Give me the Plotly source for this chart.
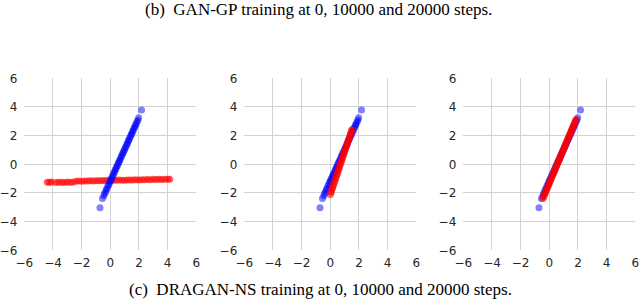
import plotly.graph_objects as go

# Real data (blue), shared by all three panels
real_x = [-0.72, -0.55, -0.45, -0.40, -0.33, -0.28, -0.22, -0.16, -0.10, -0.05, 0.00, 0.05, 0.10, 0.15,
          0.20, 0.25, 0.30, 0.35, 0.40, 0.45, 0.50, 0.55, 0.60, 0.65, 0.70, 0.75, 0.80, 0.85, 0.90, 0.95,
          1.00, 1.05, 1.10, 1.15, 1.20, 1.25, 1.30, 1.35, 1.40, 1.45, 1.50, 1.55, 1.60, 1.65, 1.70, 1.75,
          1.80, 1.86, 1.92, 1.98, 2.18]
real_y = [-3.03, -2.39, -2.20, -2.03, -1.93, -1.76, -1.69, -1.50, -1.42, -1.26, -1.19, -1.04, -0.97, -0.82,
          -0.75, -0.60, -0.52, -0.38, -0.30, -0.15, -0.08, 0.07, 0.14, 0.29, 0.36, 0.51, 0.59, 0.73, 0.81, 0.95,
          1.03, 1.18, 1.25, 1.40, 1.47, 1.62, 1.70, 1.84, 1.92, 2.06, 2.14, 2.29, 2.36, 2.51, 2.58, 2.73,
          2.81, 2.97, 3.08, 3.25, 3.79]

# Generated samples (red) at 0 steps
gen0_x = [-4.40, -4.25, -4.10, -3.80, -3.60, -3.40, -3.20, -3.00, -2.80, -2.60, -2.40, -2.20, -2.00, -1.80,
          -1.60, -1.40, -1.20, -1.00, -0.80, -0.60, -0.40, -0.20, 0.00, 0.20, 0.40, 0.60, 0.80, 1.00, 1.20,
          1.40, 1.60, 1.80, 2.00, 2.20, 2.40, 2.60, 2.80, 3.00, 3.20, 3.40, 3.60, 3.80, 4.00, 4.15]
gen0_y = [-1.25, -1.26, -1.24, -1.27, -1.26, -1.25, -1.27, -1.24, -1.26, -1.25, -1.19, -1.17, -1.18, -1.16,
          -1.17, -1.15, -1.16, -1.14, -1.15, -1.13, -1.14, -1.12, -1.13, -1.11, -1.12, -1.10, -1.11, -1.12, -1.10,
          -1.09, -1.10, -1.08, -1.09, -1.07, -1.08, -1.06, -1.07, -1.05, -1.06, -1.05, -1.06, -1.04, -1.05, -1.05]

# Generated samples (red) at 10000 steps
gen1_x = [0.00, 0.04, 0.08, 0.12, 0.16, 0.20, 0.24, 0.28, 0.32, 0.36, 0.40, 0.44, 0.48, 0.52, 0.56, 0.60,
          0.64, 0.68, 0.72, 0.76, 0.80, 0.84, 0.88, 0.92, 0.96, 1.00, 1.04, 1.08, 1.12, 1.16, 1.20, 1.24,
          1.28, 1.32, 1.36, 1.40, 1.44, 1.48, 1.51]
gen1_y = [-2.12, -1.97, -1.89, -1.73, -1.65, -1.49, -1.41, -1.25, -1.17, -1.01, -0.93, -0.77, -0.69, -0.53,
          -0.45, -0.29, -0.21, -0.05, 0.03, 0.19, 0.27, 0.43, 0.51, 0.67, 0.75, 0.91, 0.99, 1.15, 1.23, 1.39,
          1.47, 1.63, 1.71, 1.87, 1.95, 2.11, 2.19, 2.35, 2.41]

# Generated samples (red) at 20000 steps
gen2_x = [-0.44, -0.39, -0.34, -0.29, -0.24, -0.19, -0.14, -0.09, -0.04, 0.01, 0.06, 0.11, 0.16, 0.21,
          0.26, 0.31, 0.36, 0.41, 0.46, 0.51, 0.56, 0.61, 0.66, 0.71, 0.76, 0.81, 0.86, 0.91, 0.96, 1.01,
          1.06, 1.11, 1.16, 1.21, 1.26, 1.31, 1.36, 1.41, 1.46, 1.51, 1.56, 1.61, 1.66, 1.71, 1.76, 1.81, 1.86]
gen2_y = [-2.38, -2.27, -2.13, -2.03, -1.89, -1.79, -1.65, -1.56, -1.41, -1.32, -1.17, -1.08, -0.93, -0.84,
          -0.69, -0.60, -0.46, -0.36, -0.22, -0.12, 0.02, 0.12, 0.26, 0.36, 0.50, 0.60, 0.74, 0.84, 0.98, 1.08,
          1.22, 1.32, 1.46, 1.56, 1.70, 1.80, 1.94, 2.04, 2.17, 2.28, 2.41, 2.52, 2.65, 2.76, 2.89, 3.00, 3.12]

tick_vals = [-6, -4, -2, 0, 2, 4, 6]
tick_text = ["\u22126", "\u22124", "\u22122", "0", "2", "4", "6"]
caption_top = "(b)  GAN-GP training at 0, 10000 and 20000 steps."
caption_bottom = "(c)  DRAGAN-NS training at 0, 10000 and 20000 steps."

W, H = 640, 307
x_domains = [[24.3 / W, 196.3 / W], [244.3 / W, 416.3 / W], [463.3 / W, 635.3 / W]]
y_domain = [1 - 250.3 / H, 1 - 78.3 / H]

fig = go.Figure()

def add_pts(xs, ys, color, idx, opacity):
    fig.add_trace(go.Scatter(
        x=xs, y=ys, mode="markers",
        marker=dict(color=color, size=7, opacity=opacity, line=dict(width=0)),
        xaxis="x" if idx == 1 else f"x{idx}", yaxis="y" if idx == 1 else f"y{idx}",
        showlegend=False, hoverinfo="skip", cliponaxis=False))

add_pts(gen0_x, gen0_y, "rgb(255,0,0)", 1, 0.6)
add_pts(real_x, real_y, "rgb(0,0,255)", 1, 0.5)
add_pts(real_x, real_y, "rgb(0,0,255)", 2, 0.5)
add_pts(gen1_x, gen1_y, "rgb(255,0,0)", 2, 0.55)
add_pts(real_x, real_y, "rgb(0,0,255)", 3, 0.5)
add_pts(gen2_x, gen2_y, "rgb(255,0,0)", 3, 0.6)

grid_col = "#d2d2d2"
tick_font = dict(family="DejaVu Sans", size=12, color="#262626")
layout = dict(width=W, height=H, margin=dict(l=0, r=0, t=0, b=0, pad=0),
              paper_bgcolor="white", plot_bgcolor="white", template="none")
for i in range(3):
    sx = "" if i == 0 else str(i + 1)
    layout["xaxis" + sx] = dict(
        domain=x_domains[i], range=[-6, 6], anchor="y" + sx, automargin=False,
        tickmode="array", tickvals=tick_vals, ticktext=tick_text,
        showgrid=True, gridcolor=grid_col, gridwidth=1, zeroline=False,
        showline=False, ticks="", ticklabelstandoff=4, tickfont=tick_font, fixedrange=True)
    layout["yaxis" + sx] = dict(
        domain=y_domain, range=[-6, 6], anchor="x" + sx, automargin=False,
        tickmode="array", tickvals=tick_vals, ticktext=tick_text,
        showgrid=False, zeroline=False, showline=False, ticks="",
        minor=dict(tickmode="array", tickvals=[-4, -2, 0, 2, 4], showgrid=True,
                   gridcolor=grid_col, gridwidth=1, ticks=""),
        ticklabelstandoff=6, tickfont=tick_font, fixedrange=True)
fig.update_layout(**layout)

cap_font = dict(family="Liberation Serif", size=17, color="black")
fig.add_annotation(text=caption_top, xref="paper", yref="paper", x=318 / W, y=1 - 9 / H,
                   xanchor="center", yanchor="middle", showarrow=False, font=cap_font)
fig.add_annotation(text=caption_bottom, xref="paper", yref="paper", x=320 / W, y=1 - 289 / H,
                   xanchor="center", yanchor="middle", showarrow=False, font=cap_font)

fig.write_html("out.html", config={"displayModeBar": False},
               post_script="document.body.style.margin='0';document.body.style.padding='0';")
